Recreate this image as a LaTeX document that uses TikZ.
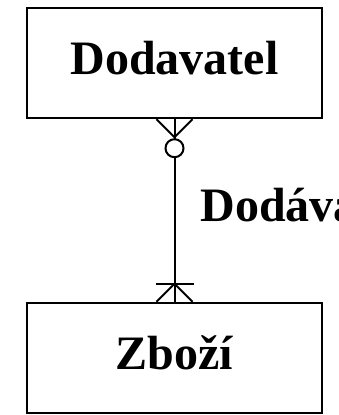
\documentclass[tikz,border=0pt]{standalone}
\usepackage{fontspec}
\setmainfont{Liberation Serif}
\usetikzlibrary{calc}

\begin{document}
\begin{tikzpicture}[x=1pt,y=-1pt,
  entity/.style={draw, line width=2.4pt, minimum width=295pt, minimum height=110pt,
                 inner sep=0pt, text depth=10pt, font=\fontsize{48}{50}\selectfont\bfseries},
  link/.style={line width=2pt}]
\useasboundingbox (0,0) rectangle (338,415);
\clip (0,0) rectangle (338,415);
\node[entity] (dod) at (174.5,63){Dodavatel};
\node[entity] (zbo) at (174.5,358){Zboží};
\draw[link] (dod.south) -- (zbo.north);
% zero or many at the supplier end
\coordinate (t) at ($(dod.south)+(0,18)$);
\draw[link] ($(dod.south)+(-18,0)$) -- (t) -- ($(dod.south)+(18,0)$);
\draw[link, fill=white] ($(dod.south)+(0,29)$) circle (9pt);
% one or many at the goods end
\coordinate (b) at ($(zbo.north)+(0,-18)$);
\draw[link] ($(zbo.north)+(-18,0)$) -- (b) -- ($(zbo.north)+(18,0)$);
\draw[link] ($(b)+(-19,0)$) -- ($(b)+(19,0)$);
\node[font=\fontsize{48}{50}\selectfont\bfseries, anchor=base west] (rel) at (197,221){Dodává};
\end{tikzpicture}
\end{document}
